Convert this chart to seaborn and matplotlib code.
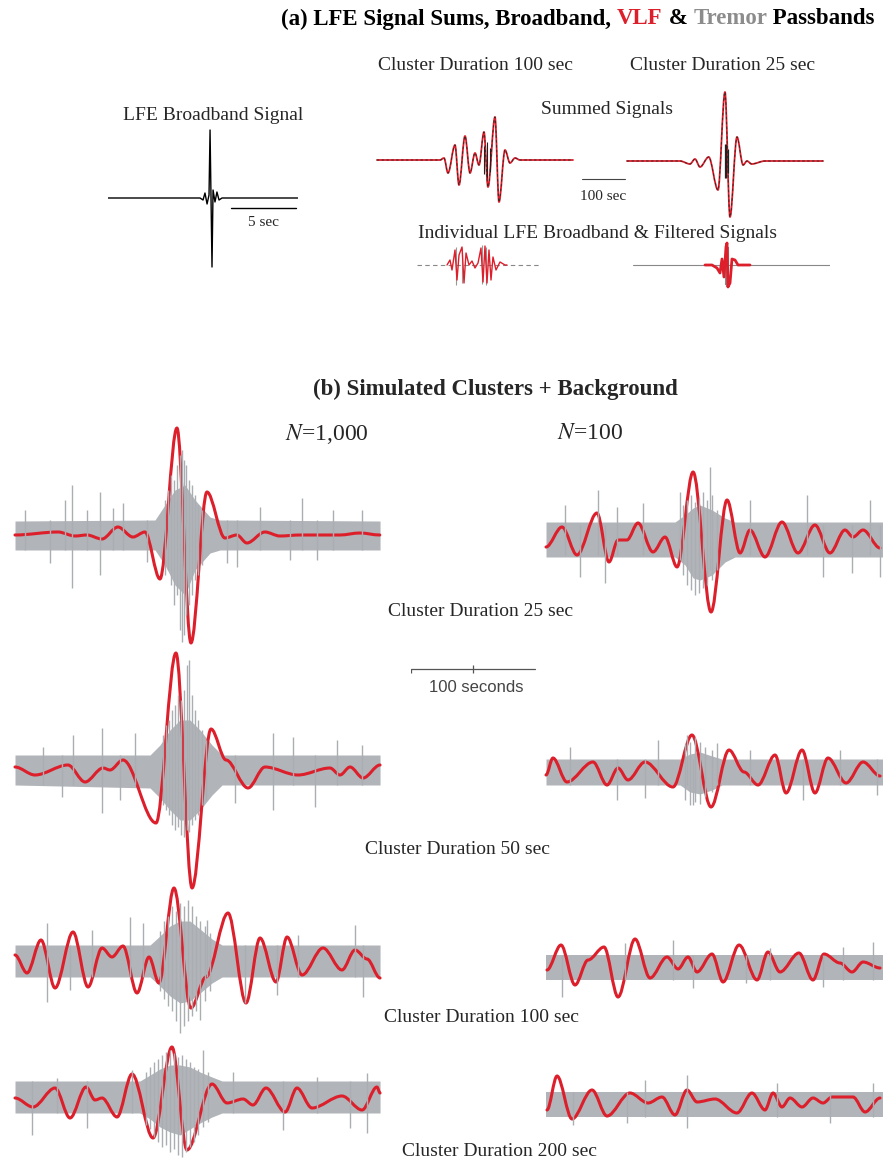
import matplotlib
matplotlib.use("Agg")
import matplotlib.pyplot as plt
from matplotlib.path import Path
from matplotlib.patches import PathPatch
import seaborn as sns

sns.set_theme(style="white")
plt.rcParams["font.family"] = ["Liberation Serif", "DejaVu Serif"]
plt.rcParams["mathtext.fontset"] = "stix"

W, H, DPI = 883, 1165, 100
RED = "#dc1f2b"
GRAY = "#b1b5b9"
SPIKE = "#aaaeb2"
DARK = "#222222"

# ---------------- panel (a) data ----------------
lfe_t = [0, 7.08, 7.31, 7.46, 7.62, 7.77, 7.85, 8.0, 8.08, 8.23, 8.38, 8.54, 8.77, 14.6]
lfe_a = [0, 0, -2, 5, -6, 3, 68, -69, 8, -4, 6, -2, 0, 0]

sum100_t = [0, 146.5, 155.8, 165.1, 181.4, 190.7, 204.7, 216.3, 227.9, 237.2, 248.8,
            258.1, 274.4, 283.7, 297.7, 309.3, 320.9, 332.6, 455.8]
sum100_a = [0, 0, 2, -13, 15, -25, 24, -13, 7, -5, 28, -27, 43, -42, 10, -3, 2, 0, 0]

sum25_t = [0, 123.3, 146.5, 158.1, 169.8, 190.0, 211.6, 227.9, 239.5, 255.8, 270.0, 279.0,
           290.0, 320.9, 455.8]
sum25_a = [0, 0, -3, 2, -6, 4, -29, 69, -56, 24, -4, 0, -3, 0, 0]

ind100_t = [69.8, 76.7, 81.4, 88.4, 93.0, 97.7, 104.7, 109.3, 114.0, 120.9, 127.9, 134.9,
            141.9, 148.8, 153.5, 158.1, 162.8, 167.4, 172.1, 176.7, 183.7, 193.0, 204.7, 209.3]
ind100_a = [0, 5, -5, 15, -15, 10, 18, -18, 12, 0, 4, -3, 2, 17, -17, 19, -18, 15, -15, 8,
            -5, 3, 0, 0]

ind25_t = [167.4, 183.7, 195.3, 202.3, 207.0, 211.6, 216.3, 218.6, 220.9, 225.6, 230.2,
           237.2, 244.2, 253.5, 272.1]
ind25_a = [0, 0, -3, -8, 6, -12, 18, 22, -22, -18, 6, 5, 0, 0, 0]

# ---------------- panel (b) data (time s, amplitude) ----------------
# VLF (red) traces: turning points
r1L_t = [0, 34.7, 48.4, 58.0, 70.1, 83.0, 95.1, 104.8, 116.9, 130.6, 141.9, 154.8, 169.3,
         178.9, 187.0, 201.5, 213.6, 229.7, 262.0, 278.1, 294.2]
r1L_a = [0, 3, -1, 0, -4, 8, -2, 3, -44, 107, -108, 43, -3, 0, -8, 3, -1, 0, 0, 2, 0]

r1R_t = [0, 12.9, 25.0, 41.1, 50.8, 58.1, 65.3, 74.2, 86.3, 96.0, 105.7, 118.6, 133.1,
         146.0, 156.5, 164.5, 176.6, 190.3, 203.2, 216.9, 229.0, 241.1, 247.6, 255.7, 269.4]
r1R_a = [-7, 13, -15, 27, -22, 0, 0, 17, -12, 3, -27, 68, -72, 40, -13, 10, -17, 18, -13,
         15, -13, 10, 3, 10, -8]

r2L_t = [0, 16.1, 42.7, 56.5, 71.0, 76.6, 87.1, 113.7, 129.8, 142.8, 158.1, 170.2, 187.9,
         201.6, 228.2, 254.0, 262.1, 270.2, 280.7, 294.4]
r2L_a = [3, -5, 5, -12, 2, 0, 10, -53, 117, -118, 41, 10, -18, 3, -5, 2, -5, 3, -8, 5]

r2R_t = [0, 5.6, 16.9, 37.9, 49.2, 58.1, 66.1, 79.8, 102.4, 117.7, 133.1, 147.6, 159.7,
         171.0, 184.7, 193.6, 206.5, 216.9, 227.4, 242.0, 255.7, 269.4]
r2R_a = [-3, 14, -10, 10, -13, 4, -8, 10, -15, 37, -35, 22, 0, -13, 17, -21, 22, -21, 14,
         -11, 10, -4]

r3L_t = [0, 9.7, 21.0, 32.3, 46.8, 58.9, 70.2, 78.2, 87.1, 98.4, 108.1, 116.1, 128.2,
         141.9, 154.0, 171.8, 186.3, 197.6, 210.5, 219.4, 231.5, 248.4, 263.7, 274.2, 283.9,
         294.4]
r3L_a = [6, -12, 21, -27, 29, -26, 13, 4, 15, -32, 4, -22, 73, -47, -16, 48, -42, 23, -21,
         24, -14, 13, -9, 11, 2, -17]

r3R_t = [0.8, 12.1, 23.4, 33.9, 46.8, 58.1, 71.8, 83.9, 97.6, 106.5, 114.5, 121.8, 133.9,
         142.8, 155.7, 170.2, 179.0, 188.7, 204.0, 215.3, 224.2, 237.1, 246.8, 255.7, 269.4]
r3R_a = [-3, 22, -18, 7, 20, -30, 28, -11, 10, -2, 10, -5, 13, -15, 22, -13, 15, -5, 14, -13,
         13, 4, -5, 5, -1]

r4L_t = [0, 14.5, 32.3, 44.4, 57.3, 64.5, 70.2, 82.3, 94.4, 111.3, 126.6, 138.7, 158.9,
         171.0, 183.9, 191.9, 202.4, 217.8, 227.4, 239.5, 263.7, 279.9, 291.9, 294.4]
r4L_a = [-1, -10, 9, -21, 10, -3, -1, -20, 23, -41, 50, -53, 13, -6, -2, -8, 9, -15, 9, -11,
         1, -13, 10, 4]

r4R_t = [0.8, 8.9, 21.0, 37.1, 49.2, 67.7, 82.3, 93.6, 104.0, 113.7, 121.8, 136.3, 154.0,
         166.1, 176.6, 183.1, 190.3, 196.8, 206.5, 215.3, 223.4, 230.7, 247.6, 257.3, 269.4]
r4R_a = [-6, 28, -15, 14, -12, 11, 1, 7, -11, 14, 2, 5, -9, 11, -6, 11, -3, 6, -3, 6, 1, 7,
         7, -8, 6]

# tremor-band background (gray) envelopes
e1L_t = [0, 112.9, 120.9, 129.0, 137.1, 145.2, 157.3, 165.3, 294.4]
e1L_up = [14, 15, 30, 45, 50, 35, 18, 15, 14]
e1L_dn = [-15, -15, -30, -50, -60, -35, -18, -15, -15]
e1R_t = [0, 104.0, 112.1, 118.6, 124.2, 133.9, 144.4, 152.4, 271.8]
e1R_up = [18, 18, 25, 32, 35, 30, 22, 18, 18]
e1R_dn = [-17, -17, -25, -38, -40, -35, -22, -17, -17]
e2L_t = [0, 108.9, 116.9, 125.0, 133.1, 141.1, 149.2, 158.9, 167.0, 294.4]
e2L_up = [15, 15, 25, 40, 50, 50, 40, 25, 15, 15]
e2L_dn = [-15, -18, -28, -40, -50, -50, -40, -25, -15, -15]
e2R_t = [0, 108.1, 116.1, 124.2, 133.9, 141.9, 271.8]
e2R_up = [13, 13, 18, 20, 16, 13, 13]
e2R_dn = [-13, -13, -20, -22, -18, -13, -13]
e3L_t = [0, 108.9, 116.9, 125.0, 133.1, 141.1, 149.2, 158.9, 167.0, 294.4]
e3L_up = [16, 16, 25, 35, 40, 40, 32, 22, 16, 16]
e3L_dn = [-16, -16, -25, -35, -42, -40, -32, -22, -16, -16]
e3R_t = [0, 271.8]
e3R_up = [12, 12]
e3R_dn = [-13, -13]
e4L_t = [0, 100.8, 108.9, 116.9, 125.0, 133.1, 141.1, 149.2, 158.9, 167.0, 294.4]
e4L_up = [16, 16, 22, 28, 32, 32, 30, 25, 20, 16, 16]
e4L_dn = [-16, -16, -22, -30, -35, -38, -32, -26, -20, -16, -16]
e4R_t = [0, 271.8]
e4R_up = [12, 12]
e4R_dn = [-13, -13]

# background spikes: time, top, bottom
s1L_t = [8.1, 28.2, 40.3, 46.0, 58.1, 68.6, 79.0, 87.1, 106.5, 121.0, 123.4, 125.8, 128.2,
         130.6, 133.1, 134.7, 136.3, 137.9, 140.3, 142.7, 145.2, 147.6, 150.8, 171.0, 179.0,
         197.6, 221.8, 231.5, 243.6, 256.5, 279.9]
s1L_up = [25, 15, 35, 50, 25, 43, 27, 32, 15, 35, 45, 60, 55, 70, 80, 85, 75, 70, 55, 50, 40,
          30, 25, 15, 15, 28, 15, 37, 15, 25, 25]
s1L_dn = [-15, -28, -15, -53, -15, -40, -15, -15, -27, -40, -35, -50, -70, -60, -95, -107,
          -100, -80, -70, -60, -45, -40, -30, -28, -32, -15, -25, -15, -25, -15, -15]
s1R_t = [15.3, 27.4, 41.9, 47.6, 57.3, 78.2, 108.1, 110.5, 113.7, 116.9, 120.2, 123.4, 126.6,
         129.8, 132.3, 133.9, 137.9, 164.5, 210.5, 223.4, 246.8, 261.3, 269.4]
s1R_up = [35, 15, 50, 15, 33, 37, 48, 35, 40, 45, 38, 42, 48, 40, 73, 45, 30, 40, 45, 15, 15,
          40, 15]
s1R_dn = [-15, -37, -15, -43, -15, -15, -20, -35, -45, -50, -55, -53, -48, -45, -30, -40,
          -30, -15, -15, -37, -33, -15, -37]
s2L_t = [22.6, 37.9, 46.8, 70.2, 84.7, 96.8, 119.4, 121.8, 124.2, 126.6, 129.0, 131.5, 133.9,
         136.3, 138.7, 140.3, 142.8, 145.2, 147.6, 150.8, 154.0, 177.4, 208.1, 224.2, 242.0,
         259.7, 279.9]
s2L_up = [23, 15, 35, 42, 15, 37, 35, 45, 50, 60, 65, 75, 70, 80, 105, 110, 75, 60, 50, 40,
          30, 15, 37, 33, 15, 30, 25]
s2L_dn = [-15, -27, -15, -43, -30, -15, -35, -40, -45, -55, -60, -57, -65, -67, -60, -62,
          -55, -50, -45, -35, -30, -33, -40, -15, -37, -15, -15]
s2R_t = [19.4, 57.3, 79.8, 90.3, 112.1, 113.7, 116.1, 118.6, 120.2, 124.2, 128.2, 133.9,
         137.9, 164.5, 207.3, 237.1, 267.0]
s2R_up = [25, 13, 13, 32, 28, 37, 30, 13, 35, 30, 25, 22, 29, 22, 13, 22, 13]
s2R_dn = [-13, -28, -26, -13, -28, -13, -33, -33, -30, -32, -25, -20, -13, -13, -28, -13,
          -23]
s3L_t = [25.8, 44.4, 62.1, 92.7, 103.2, 116.9, 120.2, 123.4, 126.6, 129.8, 133.1, 136.3,
         139.5, 142.8, 146.0, 149.2, 153.2, 154.8, 157.3, 185.5, 211.3, 228.2, 274.2, 280.7]
s3L_up = [38, 16, 31, 44, 38, 30, 40, 45, 55, 50, 58, 55, 61, 55, 45, 40, 35, 41, 28, 16, 16,
          26, 36, 16]
s3L_dn = [-41, -29, -16, -16, -16, -30, -38, -45, -50, -60, -72, -65, -60, -55, -50, -59,
          -40, -16, -30, -42, -34, -16, -16, -36]
s3R_t = [12.9, 63.7, 102.4, 118.6, 161.3, 180.7, 223.4, 239.5, 263.7]
s3R_up = [12, 24, 27, 12, 12, 19, 12, 20, 25]
s3R_dn = [-30, -13, -13, -21, -16, -13, -20, -13, -13]
s4L_t = [13.7, 33.9, 58.1, 94.4, 105.7, 108.9, 112.1, 115.3, 118.6, 121.8, 125.0, 128.2,
         131.5, 134.7, 137.9, 141.1, 144.4, 147.6, 151.6, 155.6, 175.8, 216.1, 243.6, 270.2,
         283.9]
s4L_up = [16, 19, 16, 27, 25, 30, 35, 38, 42, 45, 47, 44, 40, 42, 38, 35, 30, 28, 47, 25, 25,
          16, 20, 16, 24]
s4L_dn = [-38, -16, -31, -16, -28, -32, -40, -45, -50, -48, -55, -52, -58, -60, -55, -50,
          -45, -38, -30, -25, -16, -33, -16, -31, -36]
s4R_t = [21.8, 65.3, 79.8, 113.7, 186.3, 229.0, 263.7]
s4R_up = [12, 12, 24, 29, 21, 12, 21]
s4R_dn = [-21, -19, -13, -24, -13, -19, -13]

durations = ["25", "50", "100", "200"]

# ---------------- drawing ----------------
fig = plt.figure(figsize=(W / DPI, H / DPI), dpi=DPI)
fig.patch.set_facecolor("white")


def add_ax(x0, yc, span, pxs, half=150):
    w = span * pxs
    ax = fig.add_axes([x0 / W, 1 - (yc + half) / H, w / W, 2 * half / H])
    ax.set_xlim(0, span)
    ax.set_ylim(-half, half)
    ax.axis("off")
    return ax


def ftext(x, y, s, **kw):
    kw.setdefault("ha", "center")
    kw.setdefault("va", "center")
    return fig.text(x / W, 1 - y / H, s, **kw)


def multicolor(xc, y, parts, **kw):
    r = fig.canvas.get_renderer()
    objs, widths = [], []
    for s, c in parts:
        t = fig.text(0, 0, s, color=c, ha="left", va="center", **kw)
        widths.append(t.get_window_extent(r).width)
        objs.append(t)
    x = xc - sum(widths) / 2
    for t, w in zip(objs, widths):
        t.set_position((x / W, 1 - y / H))
        x += w


def line(ax, t, a, **kw):
    sns.lineplot(x=t, y=a, ax=ax, estimator=None, sort=False, legend=False,
                 solid_joinstyle="round", solid_capstyle="round", **kw)


def smooth(ax, t, a, **kw):
    # curve through the turning points, flat tangent at each one (drawn by the path renderer)
    verts = [(t[0], a[0])]
    codes = [Path.MOVETO]
    for i in range(1, len(t)):
        h = (t[i] - t[i - 1]) / 3.0
        verts += [(t[i - 1] + h, a[i - 1]), (t[i] - h, a[i]), (t[i], a[i])]
        codes += [Path.CURVE4] * 3
    ax.add_patch(PathPatch(Path(verts, codes), fill=False, capstyle="round",
                           joinstyle="round", clip_on=False, **kw))


# ---- panel (a) ----
multicolor(578, 19, [("(a) LFE Signal Sums, Broadband, ", "black"), ("VLF", RED),
                     (" & ", "black"), ("Tremor", "#8c8c8c"), (" Passbands", "black")],
           fontsize=16.5, fontweight="bold")

ax = add_ax(108, 198, 14.6, 13.0, half=80)
line(ax, lfe_t, lfe_a, color="black", lw=1.0)
ax.plot([9.46, 14.46], [-10, -10], color="black", lw=1.0, clip_on=False)
ftext(213, 116, "LFE Broadband Signal", fontsize=14)
ftext(263, 223, "5 sec", fontsize=11)

ax = add_ax(377, 160, 455.8, 0.43, half=70)
smooth(ax, sum100_t, sum100_a, color=RED, lw=1.3)
smooth(ax, sum100_t, sum100_a, color=DARK, lw=0.7, linestyle=(0, (2, 3)), alpha=0.8)
ax.vlines([250, 256, 262], [-14, -18, -12], [14, 18, 12], color=DARK, lw=0.8)

ax = add_ax(627, 161, 455.8, 0.43, half=70)
smooth(ax, sum25_t, sum25_a, color=RED, lw=1.3)
smooth(ax, sum25_t, sum25_a, color=DARK, lw=0.7, linestyle=(0, (2, 3)), alpha=0.8)
ax.vlines([228, 231, 234], [-17, -17, -12], [17, 17, 12], color=DARK, lw=0.9)
ax.plot([-104.7, -4.7], [-18, -18], color="#444444", lw=0.8, clip_on=False)

ftext(476, 66, "Cluster Duration 100 sec", fontsize=14)
ftext(723, 66, "Cluster Duration 25 sec", fontsize=14)
ftext(607, 110, "Summed Signals", fontsize=14)
ftext(603, 197, "100 sec", fontsize=11)
ftext(597, 233, "Individual LFE Broadband & Filtered Signals", fontsize=14)

ax = add_ax(417, 265, 286.0, 0.43, half=40)
ax.plot([0, 286], [0, 0], color="#888888", lw=0.8, dashes=(4, 3))
ax.vlines([90, 105, 150, 160], [-20, -18, -19, -20], [18, 17, 20, 18], color="#999999", lw=0.8)
line(ax, ind100_t, ind100_a, color=RED, lw=1.0)

ax = add_ax(633, 265, 458.0, 0.43, half=40)
ax.plot([0, 458], [0, 0], color="#888888", lw=0.8)
ax.vlines([216, 219, 222], [-20, -22, -20], [20, 22, 18], color="#888888", lw=1.5)
line(ax, ind25_t, ind25_a, color=RED, lw=2.0)

# ---- panel (b) ----
ftext(495, 389, "(b) Simulated Clusters + Background", fontsize=16.5, fontweight="bold")
ftext(327, 434, r"$N$=1,000", fontsize=17)
ftext(590, 434, r"$N$=100", fontsize=17)

PXS = 1.24
rows = [
    (535, (e1L_t, e1L_up, e1L_dn, s1L_t, s1L_up, s1L_dn, r1L_t, r1L_a),
     540, (e1R_t, e1R_up, e1R_dn, s1R_t, s1R_up, s1R_dn, r1R_t, r1R_a)),
    (770, (e2L_t, e2L_up, e2L_dn, s2L_t, s2L_up, s2L_dn, r2L_t, r2L_a),
     772, (e2R_t, e2R_up, e2R_dn, s2R_t, s2R_up, s2R_dn, r2R_t, r2R_a)),
    (961, (e3L_t, e3L_up, e3L_dn, s3L_t, s3L_up, s3L_dn, r3L_t, r3L_a),
     967, (e3R_t, e3R_up, e3R_dn, s3R_t, s3R_up, s3R_dn, r3R_t, r3R_a)),
    (1097, (e4L_t, e4L_up, e4L_dn, s4L_t, s4L_up, s4L_dn, r4L_t, r4L_a),
     1104, (e4R_t, e4R_up, e4R_dn, s4R_t, s4R_up, s4R_dn, r4R_t, r4R_a)),
]


def draw_trace(ax, et, eu, ed, st, su, sd, rt, ra):
    ax.fill_between(et, ed, eu, color=GRAY, lw=0)
    ax.vlines(st, sd, su, color=SPIKE, lw=1.0)
    smooth(ax, rt, ra, color=RED, lw=2.2)


for yL, dL, yR, dR in rows:
    axL = add_ax(15, yL, 294.4, PXS)
    draw_trace(axL, *dL)
    axR = add_ax(546, yR, 271.8, PXS)
    draw_trace(axR, *dR)

label_pos = [(481, 611), (457, 849), (482, 1017), (500, 1151)]
for d, (x, y) in zip(durations, label_pos):
    ftext(x, y, f"Cluster Duration {d} sec", fontsize=14)

# 100 seconds scale bar
axs = add_ax(411, 669, 100, PXS, half=20)
axs.plot([0, 100], [0, 0], color="#555555", lw=0.9, clip_on=False)
axs.vlines([0, 50, 100], [-4, -4, 0], [0, 4, 0], color="#555555", lw=0.9)
ftext(476, 688, "100 seconds", fontsize=12, family="Liberation Sans", color="#444444")

fig.savefig("out.png", dpi=DPI, facecolor="white")
